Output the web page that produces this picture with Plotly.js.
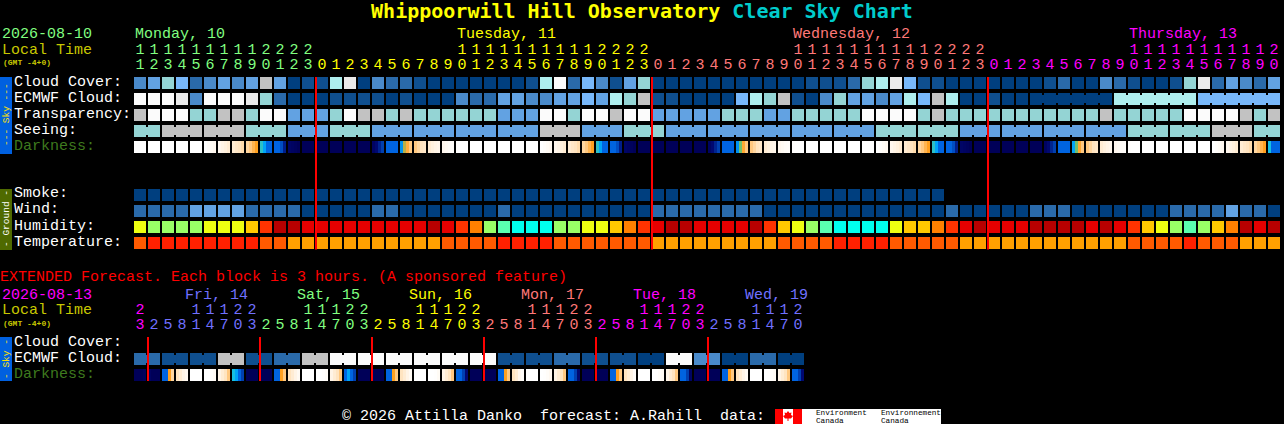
<!DOCTYPE html>
<html><head><meta charset="utf-8">
<style>html,body{margin:0;padding:0;background:#000;overflow:hidden}#c{width:1284px;height:424px}</style>
<script src="https://cdn.plot.ly/plotly-3.0.1.min.js"></script>
</head><body><div id="c"></div>
<script>
// ---------- data: hours of each column ----------
const mainHours=[11,12,13,14,15,16,17,18,19,20,21,22,23,
0,1,2,3,4,5,6,7,8,9,10,11,12,13,14,15,16,17,18,19,20,21,22,23,
0,1,2,3,4,5,6,7,8,9,10,11,12,13,14,15,16,17,18,19,20,21,22,23,
0,1,2,3,4,5,6,7,8,9,10,11,12,13,14,15,16,17,18,19,20];
const extHours=[23,2,5,8,11,14,17,20,23,2,5,8,11,14,17,20,23,2,5,8,11,14,17,20,23,2,5,8,11,14,17,20,23,2,5,8,11,14,17,20,23,2,5,8,11,14,17,20];
const mainDayColors=['#80ff80','#ffff00','#ff7878','#ff00ff'];
const extDayColors=['#ff00ff','#7070ff','#80ff80','#ffff00','#ff7878','#ff00ff','#7070ff'];

// ---------- data: sky series, 0 = clear/dark blue ... 10 = overcast/white ----------
const cloudCover=[3,4,6,5,2,3,4,3,4,8,4,0,1,1,7,9,0,3,2,2,1,
0,0,0,0,0,0,0,1,7,10,2,5,3,1,4,6,0,0,0,0,0,0,0,0,0,0,0,1,1,1,2,
6,7,9,5,1,1,0,0,0,0,0,0,0,1,2,0,0,3,2,1,0,0,1,6,9,2,4,3,2,4];
const ecmwfCloud=[10,10,10,9,3,10,10,10,9,6,2,0,0,0,1,1,1,1,0,1,0,
0,0,3,2,2,4,4,3,3,4,4,5,4,7,6,8,1,1,0,0,0,0,5,7,6,8,1,0,3,6,4,
4,3,4,7,5,8,7,0,0,1,0,0];
const ecmwfRunValues=[0,7,5];
const ecmwfRunLengths=[6,6,6];
const transparency=[8,10,10,10,6,6,8,8,6,10,10,4,4,4,6,10,8,8,6,8,6,
6,6,6,6,6,4,4,4,10,10,6,10,10,8,10,10,4,4,4,4,4,6,6,6,4,4,6,6,6,6,6,
10,10,10,10,6,8,6,6,6,6,6,6,6,6,6,6,6,8,6,6,6,6,6,10,10,10,10,8,6,8];
const seeingValues=[6,8,8,6,4,6,4,4,4,4,8,4,6,4,4,4,4,4,6,6,4,4,4,4,6,6,8,6];
const seeingLengths=[2,3,3,3,3,3,3,3,3,3,3,3,3,3,3,3,3,3,3,3,3,3,3,3,3,3,3,2];
const darknessMain=[
[0,0,0,0],[0,0,0,0],[0,0,0,0],[0,0,0,0],[0,0,0,0],[0,.3,.5,.7],[.7,1,1.2,1.5],[1.5,1.8,2,2.3],[2.5,3,3.5,4],[5.6,6.3,7,7],
[7,7,7.6,8.6],[9.4,9.6,9.8,10],[10,10,10,10],[10,10,10,10],[10,10,10,10],[10,10,10,10],[10,10,10,10],[9.6,9,8.5,8],[7,7,7,7],[6.5,4.5,3.7,3],
[3,2.5,2,1.8],[1.5,1.2,1,.8],[.7,.5,.3,.2],[.1,0,0,0],[0,0,0,0],[0,0,0,0],[0,0,0,0],[0,0,0,0],[0,0,0,0],[0,.2,.4,.6],
[.7,1,1.2,1.5],[1.5,1.8,2,2.3],[2.5,3,3.5,4],[5.6,6.3,7,7],[7,7,7.6,8.6],[9.4,9.6,9.8,10],[10,10,10,10],[10,10,10,10],[10,10,10,10],[10,10,10,10],
[10,10,10,10],[9.6,9,8.5,8],[7,7,7,7],[6.5,5,3.8,3],[3,2.5,2,1.8],[1.5,1.2,1,.8],[.7,.5,.3,.2],[.1,0,0,0],[0,0,0,0],[0,0,0,0],
[0,0,0,0],[0,0,0,0],[0,0,0,0],[0,.2,.4,.6],[.7,1,1.2,1.5],[1.5,1.8,2,2.3],[2.5,3,3.5,4],[5.6,6.3,7,7],[7,7,7.6,8.6],[9.4,9.6,9.8,10],
[10,10,10,10],[10,10,10,10],[10,10,10,10],[10,10,10,10],[10,10,10,10],[9.6,9,8.5,8],[7,7,7,7],[6.3,5,3.8,3],[3,2.5,2,1.8],[1.5,1.2,1,.8],
[.7,.5,.3,.2],[.1,0,0,0],[0,0,0,0],[0,0,0,0],[0,0,0,0],[0,0,0,0],[0,0,0,0],[0,.2,.4,.6],[.7,1,1.2,1.5],[1.5,1.8,2,2.3],
[2.5,3,3.5,4],[5.8,7,7,7]];

// ---------- data: ground series ----------
const smoke=[0,0,0,0,0,0,0,0,0,0,0,0,0,0,0,0,0,0,0,0,0,0,0,0,0,0,0,0,0,0,0,0,0,0,0,0,0,0,0,0,0,0,0,0,0,0,0,0,0,0,0,0,0,0,0,0,0,0];
const wind=[2,2,2,2,4,4,4,4,2,2,2,2,0,0,0,0,0,2,2,0,0,
0,0,0,0,0,2,0,0,0,0,0,0,0,0,0,0,2,2,2,2,2,2,2,2,0,0,0,0,0,0,0,
0,0,0,0,0,0,2,0,0,0,0,0,2,2,2,0,0,0,0,0,0,0,2,2,2,2,4,2,2,0];
// humidity class: 0 lowest (cyan) ... 8 highest (dark red)
const humidity=[3,2,2,2,2,3,3,3,4,6,8,8,7,7,7,7,7,7,7,7,7,
8,7,6,5,2,1,0,0,0,2,2,3,3,4,5,6,7,8,8,7,7,7,7,8,6,4,3,2,1,0,0,
0,0,3,4,4,5,6,7,8,7,7,7,8,8,8,8,7,8,7,6,4,3,2,1,2,4,5,8,7,8];
// temperature class: 0 coolest (amber), 1 orange, 2 red
const temperature=[1,2,2,2,2,2,2,2,2,1,1,0,0,0,0,0,0,0,0,0,0,
0,1,1,1,1,2,2,2,2,1,1,1,1,1,1,1,0,0,0,0,0,0,0,0,0,1,1,1,1,2,2,
2,2,1,1,1,1,1,0,0,0,0,0,0,0,0,0,0,0,0,1,1,1,1,2,1,1,1,0,0,0];

// ---------- data: extended forecast ----------
const extCloudPairs=[2,1,1,8,1,2,8,10,10,10,10,10,10,1,1,2,1,1,0,10,3,0,2,0];
const darknessExt=[
[10,10,10,9.8],[9.6,10,10,10],[7,7,4,2.5],[2,1.5,1,.6],[0,0,0,0],[0,0,.2,.5],[1,1.5,2,3],[5.8,6.3,7,8],
[10,10,10,10],[10,10,10,10],[7,7,4,3],[2,1.5,1,.5],[0,0,0,0],[0,0,.1,.3],[1,1.5,2,3],[7,6.3,7,8],
[10,10,10,10],[10,10,10,10],[7,7,4,3],[2,1.5,1,.5],[0,0,0,0],[0,0,.1,.4],[1,1.5,2,3],[7,7,8,9],
[10,10,10,10],[10,10,10,10],[7,7,4,3],[2,1.5,.7,.3],[0,0,0,0],[0,.1,.3,.6],[1,1.5,2,3],[7,7,8,9],
[10,10,10,10],[10,10,10,10],[7,7,4,3],[2,1.5,1,.3],[0,0,0,0],[0,.1,.3,.5],[1,1.5,2,3],[7,7,8,9.5],
[10,10,10,10],[10,10,10,10],[7,7,4,3],[2,1.5,1,.5],[0,0,0,0],[0,.1,.3,.5],[1,1.5,2,3],[7,7,8,9]];

// ---------- styles ----------
const skyColors=['#003f7f','#0f4f8f','#2a6aaa','#4a8aca','#62a2e2','#78b8fa','#94d4d4','#aeeeee','#c2c2c2','#eaeaea','#fbfbfb'];
const humColors=['#00ffee','#5affb0','#99ff66','#eeff11','#ffc800','#ff8000','#ff3300','#e60000','#b80000'];
const tempColors=['#ffa000','#ff5a00','#ff2000'];
const darkStops=['#ffffff','#fff4e6','#ffe4c0','#ffc880','#ffa020','#70c070','#00c0ff','#0064e0','#0040b0','#000870','#000058'];
const mono='"Liberation Mono", monospace';
const titleFont='"DejaVu Sans Mono", monospace';
const CW=12/14; // drawn cell width in column units

function discrete(cols){const s=[];cols.forEach((c,i)=>{s.push([i/cols.length,c]);s.push([(i+1)/cols.length,c]);});return s;}
const traces=[];
function rowTrace(name,vals,top,cols){
  traces.push({type:'heatmap',name,z:[vals],x0:0,dx:1,y:[top,top+12],xgap:2,ygap:0,
    zmin:-.5,zmax:cols.length-.5,colorscale:discrete(cols),showscale:false,hoverinfo:'skip'});
}
function necks(name,runs,vals,top,cols){ // joins inside one forecast block
  const x=[],c=[];let i=0;
  runs.forEach((n,r)=>{for(let k=0;k<n-1;k++){x.push(i+k+.5);c.push(cols[vals[r]]);}i+=n;});
  traces.push({type:'bar',name:name+' join',x,y:x.map(()=>8),base:x.map(()=>top+2),width:x.map(()=>3/14),
    marker:{color:c,line:{width:0}},hoverinfo:'skip',showlegend:false});
}
function expand(runs,vals){const o=[];runs.forEach((n,r)=>{for(let k=0;k<n;k++)o.push(vals[r]);});return o;}
function darkTrace(name,cells,top){
  const x=[],z=[];
  cells.forEach((s,i)=>{
    s.forEach((v,k)=>{x.push(i-.5+(1/14)+k*(CW/4));z.push(v);});
    z.push(null);x.push(i+.5-(1/14));
  });
  z.pop();
  traces.push({type:'heatmap',name,z:[z],x,y:[top,top+12],zmin:0,zmax:10,
    colorscale:darkStops.map((c,i)=>[i/10,c]),showscale:false,hoverinfo:'skip'});
}
function hourTexts(hours,dayCols,yTens,yOnes){
  let d=0;const col=[];
  hours.forEach((h,i)=>{if(i>0&&h<hours[i-1])d++;col.push(dayCols[Math.min(d,dayCols.length-1)]);});
  const f={family:mono,size:15};
  const idx=hours.map((_,i)=>i);
  traces.push({type:'scatter',mode:'text',x:idx,y:hours.map(()=>yTens),text:hours.map(h=>h>=10?String(Math.floor(h/10)):''),
    textposition:'middle center',textfont:{...f,color:col},hoverinfo:'skip',showlegend:false});
  traces.push({type:'scatter',mode:'text',x:idx,y:hours.map(()=>yOnes),text:hours.map(h=>String(h%10)),
    textposition:'middle center',textfont:{...f,color:col},hoverinfo:'skip',showlegend:false});
}

// ---------- main chart rows ----------
const ecmwfFull=ecmwfCloud.concat(expand(ecmwfRunLengths,ecmwfRunValues));
const seeingFull=expand(seeingLengths,seeingValues);
rowTrace('Cloud Cover',cloudCover,77,skyColors);
rowTrace('ECMWF Cloud',ecmwfFull,93,skyColors);
necks('ECMWF Cloud',ecmwfCloud.map(()=>1).concat(ecmwfRunLengths),ecmwfCloud.concat(ecmwfRunValues),93,skyColors);
rowTrace('Transparency',transparency,109,skyColors);
rowTrace('Seeing',seeingFull,125,skyColors);
necks('Seeing',seeingLengths,seeingValues,125,skyColors);
darkTrace('Darkness',darknessMain,141);
rowTrace('Smoke',smoke,189,skyColors);
rowTrace('Wind',wind,205,skyColors);
rowTrace('Humidity',humidity,221,humColors);
rowTrace('Temperature',temperature,237,tempColors);
// ---------- extended rows ----------
const extRuns=extCloudPairs.map(()=>2);
rowTrace('Ext ECMWF Cloud',expand(extRuns,extCloudPairs),353,skyColors);
necks('Ext ECMWF Cloud',extRuns,extCloudPairs,353,skyColors);
darkTrace('Ext Darkness',darknessExt,369);
hourTexts(mainHours,mainDayColors,50.5,65.5);
hourTexts(extHours,extDayColors,310.5,325.5);

// ---------- text ----------
const ann=[];
function t(px,py,text,color,size,extra){
  ann.push(Object.assign({xref:'paper',yref:'paper',x:px/1284,y:1-py/424,xanchor:'left',yanchor:'middle',showarrow:false,
    text,font:{family:mono,size:size||15,color},borderpad:0,borderwidth:0},extra||{}));
}
const dateGreen='#80ff80',lt='#c8c800',white='#ffffff',dk='#3e7a1e';
t(2,35,'2026-08-10',dateGreen);t(2,50.5,'Local Time',lt);t(3,62,'<b>(GMT -4+0)</b>',lt,8);
t(135,35,'Monday, 10',mainDayColors[0]);t(457,35,'Tuesday, 11',mainDayColors[1]);
t(793,35,'Wednesday, 12',mainDayColors[2]);t(1129,35,'Thursday, 13',mainDayColors[3]);
[['Cloud Cover:',82],['ECMWF Cloud:',98],['Transparency:',114],['Seeing:',130]].forEach(r=>t(14,r[1],r[0],white));
t(14,146,'Darkness:',dk);
[['Smoke:',194],['Wind:',210],['Humidity:',226],['Temperature:',242]].forEach(r=>t(14,r[1],r[0],white));
t(0,277,'EXTENDED Forecast. Each block is 3 hours. (A sponsored feature)','#ff0000');
t(2,295.5,'2026-08-13','#ff00ff');t(2,310.5,'Local Time',lt);t(3,323,'<b>(GMT -4+0)</b>',lt,8);
[['Fri, 14',185,1],['Sat, 15',297,2],['Sun, 16',409,3],['Mon, 17',521,4],['Tue, 18',633,5],['Wed, 19',745,6]].forEach(r=>t(r[1],295.5,r[0],extDayColors[r[2]]));
t(14,342,'Cloud Cover:',white);t(14,358,'ECMWF Cloud:',white);t(14,374,'Darkness:',dk);
t(342,416.5,'\u00a9 2026 Attilla Danko  forecast: A.Rahill  data:',white);
t(816,413,'Environment','#000',7.7);t(816,420.5,'Canada','#000',7.7);
t(881,413,'Environnement','#000',7.7);t(881,420.5,'Canada','#000',7.7);
function side(py,text,color){ann.push({xref:'paper',yref:'paper',x:6/1284,y:1-py/424,xanchor:'center',yanchor:'middle',showarrow:false,
  text,textangle:-90,font:{family:mono,size:9.5,color}});}
side(115,'--- Sky ---','#ffe000');side(219,'- Ground -','#ffffff');side(359,'- Sky -','#ffe000');

// ---------- furniture ----------
const shapes=[];
function rect(x0,y0,x1,y1,c){shapes.push({type:'rect',xref:'x',yref:'y',x0:(x0-140)/14,x1:(x1-140)/14,y0,y1,fillcolor:c,line:{width:0},layer:'below'});}
rect(0,77,12,154,'#0060e0');rect(0,189,12,250,'#4f6a00');rect(0,337,12,381,'#0060e0');
// midnight markers
mainHours.forEach((h,i)=>{if(h===0&&i>0)shapes.push({type:'rect',xref:'x',yref:'y',x0:i-.5,x1:i-.5+2/14,y0:77,y1:249.5,fillcolor:'#ff0000',line:{width:0},layer:'above'});});
extHours.forEach((h,i)=>{if(h===2)shapes.push({type:'rect',xref:'x',yref:'y',x0:i-.5,x1:i-.5+2/14,y0:337,y1:381,fillcolor:'#ff0000',line:{width:0},layer:'above'});});
// logo
rect(775,409,941,424,'#ffffff');rect(775,409,783,424,'#ff0000');rect(793,409,802,424,'#ff0000');
const lx=p=>(p-140)/14;
shapes.push({type:'path',xref:'x',yref:'y',fillcolor:'#ff0000',line:{width:0},
 path:`M${lx(788)} 411 L${lx(789.5)} 413 L${lx(791.5)} 412.5 L${lx(791)} 415 L${lx(793)} 416 L${lx(791)} 418.5 L${lx(788.5)} 418.5 L${lx(788.5)} 421 L${lx(787.5)} 421 L${lx(787.5)} 418.5 L${lx(785)} 418.5 L${lx(783)} 416 L${lx(785)} 415 L${lx(784.5)} 412.5 L${lx(786.5)} 413 Z`});

const layout={width:1284,height:424,margin:{l:0,r:0,t:0,b:0,pad:0},paper_bgcolor:'#000',plot_bgcolor:'#000',showlegend:false,
  barmode:'overlay',hovermode:false,
  title:{text:'<b>Whippoorwill Hill Observatory <span style="color:#00cccc">Clear Sky Chart</span></b>',x:.5,xref:'paper',xanchor:'center',
    y:1-11/424,yref:'paper',yanchor:'middle',font:{family:titleFont,size:20,color:'#ffff00'}},
  xaxis:{range:[-10,(1284-140)/14],visible:false,fixedrange:true},
  yaxis:{range:[424,0],visible:false,fixedrange:true},
  annotations:ann,shapes};
Plotly.newPlot('c',traces,layout,{displayModeBar:false,staticPlot:true});
</script></body></html>
